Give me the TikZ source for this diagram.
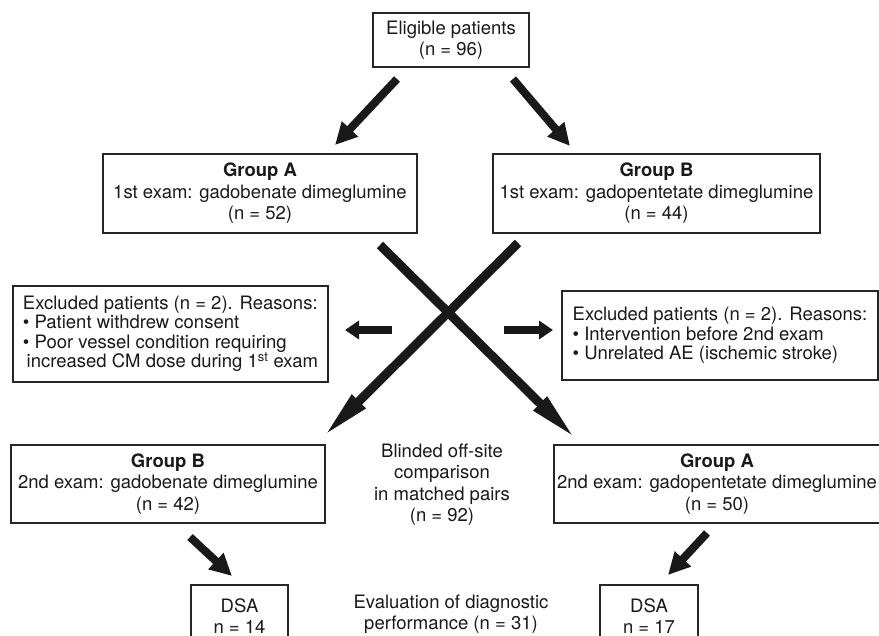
\documentclass[tikz,border=0pt]{standalone}
\usepackage{fontspec}
\setmainfont{TeX Gyre Heros}
\usetikzlibrary{arrows.meta,positioning}
\newcommand{\flowfont}{\fontsize{18.5}{21.5}\selectfont}
\tikzset{
  every picture/.style={line width=1.1pt},
  fbox/.style={draw=black!85, inner sep=0pt, align=center, font=\flowfont, text=black!90},
  ftext/.style={inner sep=0pt, align=center, font=\flowfont, text=black!90},
  fexcl/.style={fbox, align=left, font=\fontsize{18.5}{19.5}\selectfont},
  fatArrow/.style={draw=black!90, line width=8pt, -{Triangle[length=22pt,width=21pt]}},
  sideArrow/.style={draw=black!90, line width=8pt, -{Triangle[length=14pt,width=18pt]}},
  crossArrow/.style={draw=black!90, line width=9pt, -{Triangle[length=52pt,width=17pt]}},
}

\begin{document}
\begin{tikzpicture}[x=1pt,y=-1pt]
  \useasboundingbox (0,0) rectangle (879,636);
  % first stage
  \node[fbox, minimum width=156pt, minimum height=54pt] (elig) at (451,40)
        {Eligible patients\\(n = 96)};
  \node[fbox, minimum width=314pt, minimum height=79pt] (grpA1) at (260,193.5)
        {\textbf{Group A}\\1st exam: gadobenate dimeglumine\\(n = 52)};
  \node[fbox, minimum width=327pt, minimum height=79pt] (grpB1) at (656.5,193.5)
        {\textbf{Group B}\\1st exam: gadopentetate dimeglumine\\(n = 44)};
  % exclusions
  \node[fexcl, minimum width=315pt, minimum height=96pt] (exclL) at (170.5,334)
        {Excluded patients (n = 2). Reasons:\\
         \textbullet{} Patient withdrew consent\\
         \textbullet{} Poor vessel condition requiring\\
         \hspace*{0.2em}increased CM dose during 1\textsuperscript{st} exam};
  \node[fexcl, minimum width=316pt, minimum height=89pt] (exclR) at (720,335.5)
        {Excluded patients (n = 2). Reasons:\\
         \textbullet{} Intervention before 2nd exam\\
         \textbullet{} Unrelated AE (ischemic stroke)};
  % second stage
  \node[fbox, minimum width=314pt, minimum height=78pt] (grpB2) at (168,484)
        {\textbf{Group B}\\2nd exam: gadobenate dimeglumine\\(n = 42)};
  \node[fbox, minimum width=326pt, minimum height=78pt] (grpA2) at (717,484)
        {\textbf{Group A}\\2nd exam: gadopentetate dimeglumine\\(n = 50)};
  \node[ftext] (blind) at (442,484.5)
        {Blinded off-site\\comparison\\in matched pairs\\(n = 92)};
  % DSA subsets
  \node[fbox, minimum width=97pt, minimum height=62pt] (dsaL) at (239.5,616)
        {DSA\\n = 14};
  \node[fbox, minimum width=98pt, minimum height=62pt] (dsaR) at (649,616)
        {DSA\\n = 17};
  \node[ftext] (evalDx) at (451,614)
        {Evaluation of diagnostic\\performance (n = 31)};
  % arrow ends
  \coordinate (eligSW) at (397,79);   \coordinate (grpA1N) at (335,145);
  \coordinate (eligSE) at (513,79);   \coordinate (grpB1N) at (570,146);
  \coordinate (grpA1S) at (380,245);  \coordinate (grpA2N) at (577,440);
  \coordinate (grpB1S) at (518,243);  \coordinate (grpB2N) at (322,438);
  \coordinate (crossW) at (392,330);  \coordinate (exclLE) at (345,330);
  \coordinate (crossE) at (504,330);  \coordinate (exclRW) at (553,330);
  \coordinate (grpB2S) at (190,537);  \coordinate (dsaLN) at (232,576);
  \coordinate (grpA2S) at (707,533);  \coordinate (dsaRN) at (668,575);
  % arrows
  \draw[fatArrow] (eligSW) -- (grpA1N);
  \draw[fatArrow] (eligSE) -- (grpB1N);
  \draw[crossArrow] (grpA1S) -- (grpA2N);
  \draw[crossArrow] (grpB1S) -- (grpB2N);
  \draw[sideArrow] (crossW) -- (exclLE);
  \draw[sideArrow] (crossE) -- (exclRW);
  \draw[fatArrow] (grpB2S) -- (dsaLN);
  \draw[fatArrow] (grpA2S) -- (dsaRN);
\end{tikzpicture}
\end{document}
